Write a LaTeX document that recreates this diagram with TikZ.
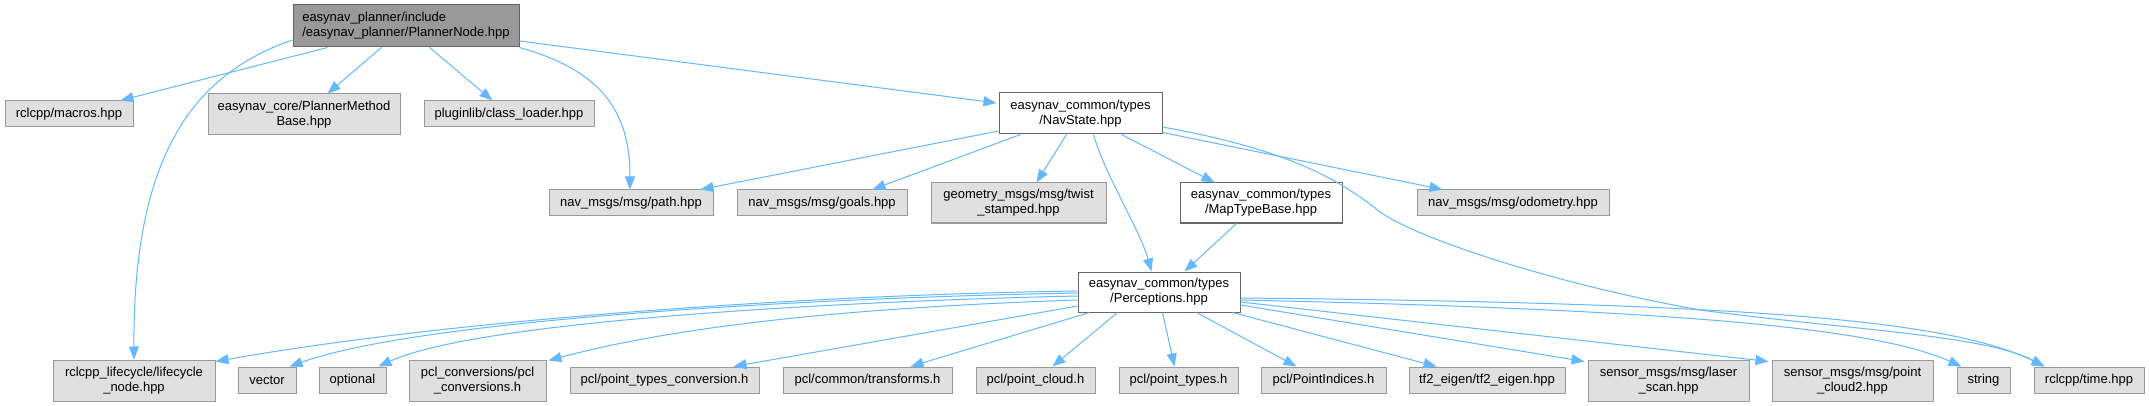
\documentclass[tikz,border=0pt]{standalone}
\usepackage{fontspec}
\setmainfont{Liberation Sans}
\usetikzlibrary{arrows.meta,calc}
\definecolor{edgec}{HTML}{63B8FF}
\definecolor{gfill}{HTML}{E0E0E0}
\definecolor{gdraw}{HTML}{999999}
\definecolor{wdraw}{HTML}{666666}
\definecolor{rfill}{HTML}{999999}
\begin{document}
\begin{tikzpicture}[x=1pt,y=-1pt,
  base/.style={rectangle, line width=1pt, inner sep=0pt, align=center, text=black,
    font=\fontsize{13}{15}\selectfont},
  gbox/.style={base, draw=gdraw, fill=gfill},
  wbox/.style={base, draw=wdraw, fill=white},
  rbox/.style={base, draw=wdraw, fill=rfill, align=left},
  sz/.style 2 args={minimum width=#1pt, minimum height=#2pt},
  edge/.style={draw=edgec, line width=1pt, -{Triangle[length=13pt,width=10pt]}}]
\useasboundingbox (0,0) rectangle (2149,406);
\fill[white] (0,0) rectangle (2149,406);
% row 0
\node[rbox, sz={226}{42}] (root) at (406,26) {easynav\_planner/include\\/easynav\_planner/PlannerNode.hpp};
% row 1
\node[gbox, sz={128}{26}] (macros) at (69,114) {rclcpp/macros.hpp};
\node[gbox, sz={192}{41}] (pm) at (304,114.5) {easynav\_core/PlannerMethod\\Base.hpp};
\node[gbox, sz={170}{26}] (cl) at (509,114) {pluginlib/class\_loader.hpp};
\node[wbox, sz={163}{41}] (ns) at (1080.5,113.5) {easynav\_common/types\\/NavState.hpp};
% row 2
\node[gbox, sz={164}{26}] (path) at (631,203) {nav\_msgs/msg/path.hpp};
\node[gbox, sz={170}{26}] (goals) at (822,203) {nav\_msgs/msg/goals.hpp};
\node[gbox, sz={175}{40}] (twist) at (1018.5,203) {geometry\_msgs/msg/twist\\\_stamped.hpp};
\node[wbox, sz={162}{40}] (mtb) at (1261,203) {easynav\_common/types\\/MapTypeBase.hpp};
\node[gbox, sz={192}{26}] (odom) at (1513,203) {nav\_msgs/msg/odometry.hpp};
% row 3
\node[wbox, sz={162}{40}] (perc) at (1159,292) {easynav\_common/types\\/Perceptions.hpp};
% row 4
\node[gbox, sz={162}{41}] (lc) at (134,380.5) {rclcpp\_lifecycle/lifecycle\\\_node.hpp};
\node[gbox, sz={58}{26}] (vec) at (267,380) {vector};
\node[gbox, sz={67}{26}] (opt) at (352.5,380) {optional};
\node[gbox, sz={137}{41}] (pclc) at (477.5,380.5) {pcl\_conversions/pcl\\\_conversions.h};
\node[gbox, sz={189}{26}] (ptc) at (664.5,380) {pcl/point\_types\_conversion.h};
\node[gbox, sz={169}{26}] (tr) at (867.5,380) {pcl/common/transforms.h};
\node[gbox, sz={119}{26}] (pc) at (1035.5,380) {pcl/point\_cloud.h};
\node[gbox, sz={119}{26}] (pt) at (1178.5,380) {pcl/point\_types.h};
\node[gbox, sz={125}{26}] (pi) at (1323.5,380) {pcl/PointIndices.h};
\node[gbox, sz={156}{26}] (tf) at (1487,380) {tf2\_eigen/tf2\_eigen.hpp};
\node[gbox, sz={161}{41}] (ls) at (1668.5,380.5) {sensor\_msgs/msg/laser\\\_scan.hpp};
\node[gbox, sz={161}{41}] (pc2) at (1852.5,380.5) {sensor\_msgs/msg/point\\\_cloud2.hpp};
\node[gbox, sz={53}{26}] (str) at (1983.5,380) {string};
\node[gbox, sz={110}{26}] (time) at (2089,380) {rclcpp/time.hpp};
% edges from root
\draw[edge] ($(root.south west)+(35,0)$) -- ($(macros.north east)+(-13,0)$);
\draw[edge] ($(root.south west)+(89,0)$) -- ($(pm.north west)+(120,0)$);
\draw[edge] ($(root.south west)+(137,0)$) -- ($(cl.north west)+(69,0)$);
\draw[edge] ($(root.west)+(0,14)$) .. controls (190,75) and (133,160) .. (lc.north);
\draw[edge] (root.south east) .. controls (600,70) and (630,110) .. ($(path.north)+(-1,0)$);
\draw[edge] ($(root.east)+(0,15)$) -- ($(ns.west)+(-2,-10.5)$);
% edges from NavState
\draw[edge] ($(ns.west)+(0,17.5)$) -- ($(path.north east)+(-13,0)$);
\draw[edge] ($(ns.south west)+(22,0)$) -- ($(goals.north east)+(-35,0)$);
\draw[edge] ($(ns.south west)+(68,0)$) -- ($(twist.north west)+(106,0)$);
\draw[edge] ($(ns.south west)+(95,0)$) .. controls (1105,175) and (1140,230) .. ($(perc.north west)+(74,0)$);
\draw[edge] ($(ns.south west)+(123,0)$) -- ($(mtb.north west)+(35,0)$);
\draw[edge] ($(ns.south east)+(0,-2)$) -- ($(odom.north west)+(26,0)$);
\draw[edge] ($(ns.east)+(0,13.5)$) .. controls (1290,150) and (1340,180) .. (1380,212)
  .. controls (1420,240) and (1560,285) .. (1700,310)
  .. controls (1850,330) and (1985,335) .. ($(time.north west)+(11,0)$);
% MapTypeBase
\draw[edge] ($(mtb.south west)+(57,0)$) -- ($(perc.north west)+(107,0)$);
% edges from Perceptions
\draw[edge] ($(perc.west)+(0,-1)$) .. controls (800,295) and (450,320) .. ($(lc.north east)+(0,2)$);
\draw[edge] ($(perc.west)+(0,1)$) .. controls (800,298) and (420,320) .. ($(vec.north east)+(-7,0)$);
\draw[edge] ($(perc.west)+(0,4)$) .. controls (850,301) and (480,320) .. ($(opt.north east)+(-8,0)$);
\draw[edge] ($(perc.west)+(0,8)$) .. controls (900,306) and (700,320) .. ($(pclc.north east)+(2,1)$);
\draw[edge] ($(perc.west)+(0,14)$) -- ($(ptc.north east)+(-26,0)$);
\draw[edge] ($(perc.south west)+(12,0)$) -- ($(tr.north east)+(-42,0)$);
\draw[edge] ($(perc.south west)+(40,0)$) -- ($(pc.north west)+(77,0)$);
\draw[edge] ($(perc.south west)+(85,0)$) -- ($(pt.north west)+(56,0)$);
\draw[edge] ($(perc.south west)+(119,0)$) -- ($(pi.north west)+(36,0)$);
\draw[edge] ($(perc.south west)+(155,0)$) -- ($(tf.north west)+(28,0)$);
\draw[edge] ($(perc.east)+(0,13)$) -- ($(ls.north west)+(-3,2)$);
\draw[edge] ($(perc.east)+(0,10)$) -- ($(pc2.north west)+(-3,2)$);
\draw[edge] ($(perc.east)+(0,8)$) .. controls (1700,310) and (1880,330) .. ($(str.north west)+(5,0)$);
\draw[edge] ($(perc.east)+(0,6)$) .. controls (1750,303) and (1950,320) .. ($(time.north west)+(11,0)$);
\end{tikzpicture}
\end{document}
